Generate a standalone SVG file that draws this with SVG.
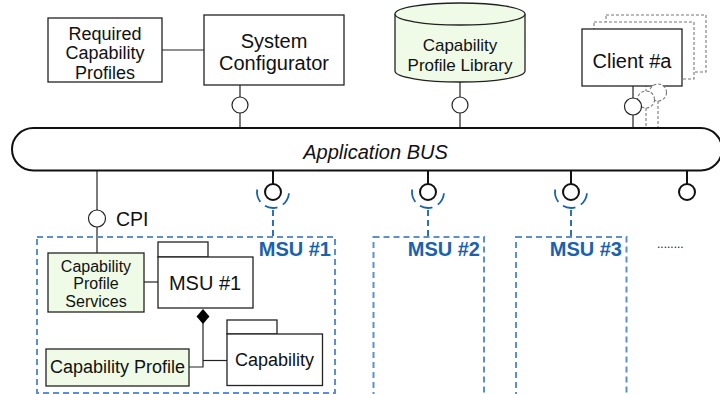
<svg xmlns="http://www.w3.org/2000/svg" width="720" height="394" viewBox="0 0 720 394">
<style>
text{font-family:"Liberation Sans",Arial,sans-serif;fill:#111}
.box{fill:#fff;stroke:#222;stroke-width:1.3}
.green{fill:#effbe7;stroke:#222;stroke-width:1.3}
.ln{fill:none;stroke:#222;stroke-width:1.2}
.lnb{fill:none;stroke:#111;stroke-width:2}
.lol{fill:#fff;stroke:#222;stroke-width:1.2}
.lolb{fill:#fff;stroke:#111;stroke-width:2}
.gdash{fill:#fff;stroke:#777;stroke-width:1.1;stroke-dasharray:3 2}
.gline{fill:none;stroke:#777;stroke-width:1.1;stroke-dasharray:3 2}
.sock{fill:none;stroke:#1a62ad;stroke-width:1.8;stroke-dasharray:6 4}
.arc{fill:none;stroke:#1a62ad;stroke-width:1.8;stroke-dasharray:13 6}
.msu{fill:none;stroke:#5b8fcf;stroke-width:2;stroke-dasharray:6 4}
.lbl{font-weight:bold;font-size:20px;fill:#1a62ad;text-anchor:end}
.c{text-anchor:middle}
</style>

<g id="connectors">
  <line class="ln" x1="162" y1="50" x2="204" y2="50"/>
  <line class="ln" x1="240" y1="85" x2="240" y2="97"/>
  <line class="ln" x1="240" y1="113" x2="240" y2="129"/>
  <line class="ln" x1="460" y1="82" x2="460" y2="97"/>
  <line class="ln" x1="460" y1="113" x2="460" y2="129"/>
  <line class="gline" x1="646" y1="79" x2="646" y2="91"/>
  <line class="gline" x1="658" y1="72" x2="658" y2="84"/>
  <line class="gline" x1="646" y1="108" x2="646" y2="129"/>
  <line class="gline" x1="658" y1="101" x2="658" y2="129"/>
  <line class="ln" x1="633" y1="86" x2="633" y2="98"/>
  <line class="ln" x1="633" y1="115" x2="633" y2="129"/>
  <line class="ln" x1="97" y1="170" x2="97" y2="210"/>
  <line class="ln" x1="97" y1="227" x2="97" y2="253"/>
  <line class="ln" x1="144" y1="282" x2="158" y2="282"/>
  <polyline class="ln" points="189,367 203,367 203,323"/>
  <line class="ln" x1="203" y1="360.5" x2="227" y2="360.5"/>
  <polygon points="203,309 209.5,316.5 203,324 196.5,316.5" fill="#000"/>
  <line class="lnb" x1="273" y1="170" x2="273" y2="184"/>
  <line class="lnb" x1="428" y1="170" x2="428" y2="184"/>
  <line class="lnb" x1="571" y1="170" x2="571" y2="184"/>
  <line class="lnb" x1="687" y1="170" x2="687" y2="184"/>
  <line class="sock" x1="273" y1="210" x2="273" y2="237"/>
  <line class="sock" x1="428" y1="210" x2="428" y2="237"/>
  <line class="sock" x1="571" y1="210" x2="571" y2="237"/>
</g>

<g id="bus">
  <rect x="12" y="128" width="710" height="42.5" rx="21.25" fill="#fff" stroke="#111" stroke-width="2"/>
  <text x="375.5" y="159" class="c" font-size="20" font-style="italic">Application BUS</text>
</g>

<g id="required-capability-profiles">
  <rect class="box" x="48" y="18" width="114" height="64"/>
  <text class="c" x="105" y="39.5" font-size="18">Required</text>
  <text class="c" x="105" y="59" font-size="18">Capability</text>
  <text class="c" x="105" y="78.5" font-size="18">Profiles</text>
</g>

<g id="system-configurator">
  <rect class="box" x="204" y="15" width="140" height="70"/>
  <text class="c" x="274" y="47.5" font-size="20">System</text>
  <text class="c" x="274" y="69.5" font-size="20">Configurator</text>
  <circle class="lol" cx="240" cy="105" r="8"/>
</g>

<g id="capability-profile-library">
  <path class="green" d="M395,14 L395,71 A65,11 0 0 0 525,71 L525,14"/>
  <ellipse class="green" cx="460" cy="14" rx="65" ry="11"/>
  <text class="c" x="460" y="51" font-size="17">Capability</text>
  <text class="c" x="460" y="71" font-size="17">Profile Library</text>
  <circle class="lol" cx="460" cy="105" r="8"/>
</g>

<g id="client">
  <rect class="gdash" x="606" y="15" width="100" height="57"/>
  <rect class="gdash" x="594" y="22" width="100" height="57"/>
  <rect class="box" x="582" y="29" width="100" height="57"/>
  <text class="c" x="632" y="67.5" font-size="20">Client #a</text>
  <circle class="gdash" cx="658" cy="92.5" r="8.5"/>
  <circle class="gdash" cx="646" cy="99.5" r="8.5"/>
  <circle class="lol" cx="633" cy="106.5" r="8.5"/>
</g>

<g id="cpi">
  <circle class="lol" cx="97" cy="218.5" r="8.5"/>
  <text x="116" y="225.5" font-size="19.5">CPI</text>
</g>

<g id="msu1-socket">
  <circle class="lolb" cx="273" cy="192" r="8"/>
  <path class="arc" d="M257.2,189.5 A16,16 0 1 0 288.8,189.5"/>
</g>
<g id="msu2-socket">
  <circle class="lolb" cx="428" cy="192" r="8"/>
  <path class="arc" d="M412.2,189.5 A16,16 0 1 0 443.8,189.5"/>
</g>
<g id="msu3-socket">
  <circle class="lolb" cx="571" cy="192" r="8"/>
  <path class="arc" d="M555.2,189.5 A16,16 0 1 0 586.8,189.5"/>
</g>
<g id="port4">
  <circle class="lolb" cx="687" cy="192" r="8"/>
</g>

<g id="msu1-container">
  <rect class="msu" x="37" y="237" width="298" height="156"/>
  <text class="lbl" x="331" y="256">MSU #1</text>
</g>
<g id="msu2-container">
  <rect class="msu" x="373.5" y="237" width="110.5" height="160"/>
  <text class="lbl" x="480" y="256">MSU #2</text>
</g>
<g id="msu3-container">
  <rect class="msu" x="516" y="237" width="110.5" height="160"/>
  <text class="lbl" x="622" y="256">MSU #3</text>
</g>
<g id="ellipsis">
  <text x="657" y="248" font-size="12">........</text>
</g>

<g id="capability-profile-services">
  <rect class="green" x="48" y="253" width="96" height="59"/>
  <text class="c" x="96" y="271.5" font-size="16">Capability</text>
  <text class="c" x="96" y="289" font-size="16">Profile</text>
  <text class="c" x="96" y="306.5" font-size="16">Services</text>
</g>

<g id="msu1">
  <rect class="box" x="158" y="242" width="50" height="15"/>
  <rect class="box" x="158" y="257" width="95" height="51"/>
  <text class="c" x="205" y="289.5" font-size="20">MSU #1</text>
</g>

<g id="capability">
  <rect class="box" x="227" y="320" width="50" height="14"/>
  <rect class="box" x="227" y="334" width="95.5" height="51.5"/>
  <text class="c" x="274.5" y="366" font-size="18">Capability</text>
</g>

<g id="capability-profile">
  <rect class="green" x="46" y="349" width="143" height="37"/>
  <text class="c" x="117.5" y="373" font-size="18">Capability Profile</text>
</g>
</svg>
